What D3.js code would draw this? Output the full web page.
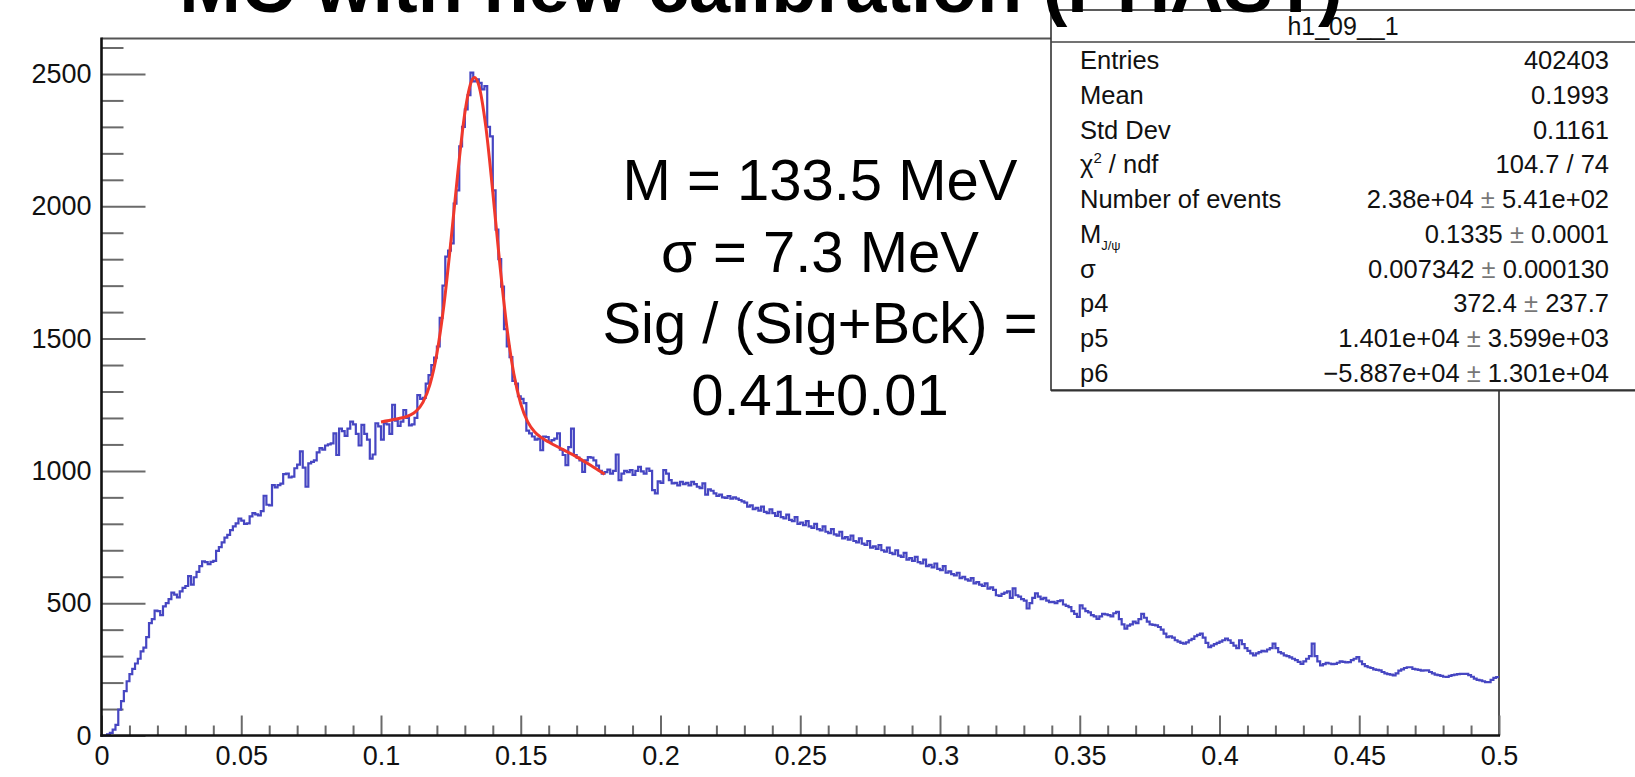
<!DOCTYPE html>
<html><head><meta charset="utf-8">
<script src="https://cdn.jsdelivr.net/npm/d3@7"></script>
<style>
body{margin:0;background:#fff;}
svg{display:block;font-family:"Liberation Sans",Arial,Helvetica,sans-serif;}
</style>
</head><body>
<svg id="c" width="1635" height="777"></svg>
<script>
// ---------------- data ----------------
const binWidth = 0.001;
const binCounts = [
0,0,4,10,22,40,98,130,168,205,
232,252,272,290,318,332,372,425,440,472,
470,455,488,500,515,540,532,522,545,558,
565,602,570,598,618,640,658,655,648,656,
660,698,712,730,748,758,776,790,802,820,
812,800,802,828,840,836,832,848,906,872,
870,946,938,946,952,988,990,975,978,1010,
1024,1074,1012,940,1028,1034,1040,1070,1086,1080,
1096,1100,1104,1142,1060,1160,1150,1132,1160,1186,
1176,1140,1096,1174,1140,1118,1046,1062,1180,1168,
1118,1180,1176,1140,1250,1190,1170,1186,1230,1200,
1172,1176,1200,1286,1272,1276,1330,1362,1400,1428,
1470,1578,1700,1810,1832,1860,2010,2060,2226,2300,
2366,2420,2505,2472,2480,2466,2442,2454,2300,2264,
2060,1912,1800,1696,1536,1470,1430,1340,1330,1282,
1272,1256,1152,1142,1130,1118,1122,1078,1130,1128,
1110,1116,1122,1142,1080,1060,1022,1090,1160,1060,
1050,1040,996,1040,1052,1050,1040,1020,1000,990,
995,1005,990,1000,1062,965,990,1000,995,1003,
985,1000,1015,998,990,1009,1000,927,915,960,
955,1003,990,965,953,955,945,959,950,955,
945,959,950,940,935,953,910,930,925,915,
905,910,900,898,905,895,900,895,890,885,
880,865,870,855,860,850,865,845,840,855,
840,830,845,825,820,835,815,810,825,800,
805,795,810,790,785,800,780,775,790,770,
765,780,760,755,770,745,750,740,755,735,
730,745,725,720,735,710,715,705,720,700,
695,710,690,685,700,680,675,690,665,670,
660,675,655,650,665,640,645,635,650,630,
625,640,615,620,610,605,615,595,600,590,
585,595,575,580,570,565,575,555,560,550,
530,528,535,540,545,520,556,530,525,515,
510,480,500,520,537,525,515,520,510,504,
505,500,508,511,495,490,485,470,460,448,
492,480,470,465,455,450,441,450,460,458,
455,450,462,467,440,420,404,415,420,430,
425,440,460,445,430,420,418,416,410,400,
385,372,375,370,360,355,350,347,352,360,
365,375,380,385,370,350,334,340,345,350,
355,360,366,360,350,340,330,360,345,330,
320,310,303,310,315,320,318,325,330,347,
330,315,310,303,300,295,290,285,278,271,
280,290,300,347,300,280,265,270,275,272,
270,271,275,280,278,276,277,285,290,296,
280,270,262,258,255,250,248,246,240,235,
232,230,227,235,245,250,255,258,258,252,
250,248,245,246,246,240,235,230,228,225,
222,221,225,228,230,232,233,233,233,228,
222,215,210,208,205,202,202,210,218,221
];
const fitX = [0.100,0.105,0.110,0.1125,0.115,0.1175,0.120,0.1225,0.125,0.1275,0.130,0.1325,0.1335,0.135,0.1375,0.140,0.1425,0.145,0.1475,0.150,0.1525,0.155,0.1575,0.160,0.165,0.170,0.175,0.180];
const fitY = [1185,1195,1209,1225,1259,1326,1444,1626,1866,2128,2353,2476,2487,2457,2301,2054,1783,1545,1368,1253,1185,1147,1125,1109,1081,1053,1021,987];

const xMajorTicks = [0,0.05,0.1,0.15,0.2,0.25,0.3,0.35,0.4,0.45,0.5];
const xTickLabels = ["0","0.05","0.1","0.15","0.2","0.25","0.3","0.35","0.4","0.45","0.5"];
const yMajorTicks = [0,500,1000,1500,2000,2500];
const yTickLabels = ["0","500","1000","1500","2000","2500"];

const titleText = "MC with new calibration (PHAST)";
const statsTitle = "h1_09__1";
const statsLabels = ["Entries","Mean","Std Dev","chi2","Number of events","MJpsi","σ","p4","p5","p6"];
const statsValues = ["402403","0.1993","0.1161","104.7 / 74",
  ["2.38e+04","5.41e+02"],["0.1335","0.0001"],["0.007342","0.000130"],
  ["372.4","237.7"],["1.401e+04","3.599e+03"],["\u22125.887e+04","1.301e+04"]];
const annotationLines = ["M = 133.5 MeV","σ = 7.3 MeV","Sig / (Sig+Bck) =","0.41±0.01"];

// ---------------- layout ----------------
const svg = d3.select("#c");
const X0 = 101.5, X1 = 1499, Y0 = 735.5, Y1 = 38.5;
const x = d3.scaleLinear().domain([0,0.5]).range([X0,X1]);
const y = d3.scaleLinear().domain([0,2634]).range([Y0,Y1]);

svg.append("rect").attr("width",1635).attr("height",777).attr("fill","#fff");

// frame (top + right)
svg.append("path").attr("d",`M${X0},${Y1}H${X1}V${Y0}`).attr("fill","none")
  .attr("stroke","#555").attr("stroke-width",2);

// minor ticks
const xMinor = d3.range(0,51).map(i=>i*0.01).filter(v=>!xMajorTicks.some(m=>Math.abs(m-v)<1e-9));
const yMinor = d3.range(0,27).map(i=>i*100).filter(v=>v%500!==0);

const gx = svg.append("g").attr("transform",`translate(0,${Y0})`);
gx.call(d3.axisBottom(x).tickValues(xMinor).tickSizeInner(-10).tickSizeOuter(0).tickFormat(""));
gx.call(g=>g.select(".domain").remove());
const gx2 = svg.append("g").attr("transform",`translate(0,${Y0})`);
gx2.call(d3.axisBottom(x).tickValues(xMajorTicks).tickSizeInner(-20).tickSizeOuter(0).tickPadding(10)
  .tickFormat((d,i)=>xTickLabels[i]));
gx2.call(g=>g.select(".domain").remove());

const gy = svg.append("g").attr("transform",`translate(${X0},0)`);
gy.call(d3.axisLeft(y).tickValues(yMinor).tickSizeInner(-22).tickSizeOuter(0).tickFormat(""));
gy.call(g=>g.select(".domain").remove());
const gy2 = svg.append("g").attr("transform",`translate(${X0},0)`);
gy2.call(d3.axisLeft(y).tickValues(yMajorTicks).tickSizeInner(-44).tickSizeOuter(0).tickPadding(10)
  .tickFormat((d,i)=>yTickLabels[i]));
gy2.call(g=>g.select(".domain").remove());

svg.selectAll(".tick line").attr("stroke","#6a6a6a").attr("stroke-width",2);
svg.selectAll(".tick text").attr("font-size",27).attr("fill","#111")
  .attr("font-family","'Liberation Sans',Arial,sans-serif");

// histogram
const pts = binCounts.map((v,i)=>[i*binWidth,v]);
pts.push([binCounts.length*binWidth, binCounts[binCounts.length-1]]);
const stepLine = d3.line().x(d=>x(d[0])).y(d=>y(d[1])).curve(d3.curveStepAfter);
svg.append("path").attr("d",stepLine(pts)).attr("fill","none")
  .attr("stroke","#4646c2").attr("stroke-width",2.2).attr("stroke-linejoin","miter");

// fit
const fitLine = d3.line().x((d,i)=>x(fitX[i])).y((d,i)=>y(fitY[i])).curve(d3.curveMonotoneX);
svg.append("path").attr("d",fitLine(fitX)).attr("fill","none")
  .attr("stroke","#f0382c").attr("stroke-width",3);

// axis lines
svg.append("line").attr("x1",X0).attr("x2",X0).attr("y1",Y1-1).attr("y2",Y0+1.2)
  .attr("stroke","#111").attr("stroke-width",2.6);
svg.append("line").attr("x1",X0-1.2).attr("x2",X1+1).attr("y1",Y0).attr("y2",Y0)
  .attr("stroke","#111").attr("stroke-width",2.6);

// annotation
const ann = svg.append("g").attr("font-size",58).attr("fill","#000").attr("text-anchor","middle");
annotationLines.forEach((t,i)=>{
  ann.append("text").attr("x",820).attr("y",200+i*71.7).text(t);
});

// stats box
const bx = 1051, byTop = 10, byBot = 390;
svg.append("rect").attr("x",bx).attr("y",byTop).attr("width",1640-bx).attr("height",byBot-byTop)
  .attr("fill","#fff").attr("stroke","#333").attr("stroke-width",1.6);
svg.append("line").attr("x1",bx).attr("x2",1640).attr("y1",byBot+0.8).attr("y2",byBot+0.8)
  .attr("stroke","#333").attr("stroke-width",1.6);
svg.append("line").attr("x1",bx).attr("x2",1640).attr("y1",42).attr("y2",42)
  .attr("stroke","#444").attr("stroke-width",1.6);
svg.append("text").attr("x",1343).attr("y",35).attr("text-anchor","middle")
  .attr("font-size",25).attr("fill","#111").text(statsTitle);

const sg = svg.append("g").attr("font-size",25.5).attr("fill","#111");
statsLabels.forEach((lab,i)=>{
  const yy = 69.3 + i*34.7;
  const t = sg.append("text").attr("x",1080).attr("y",yy);
  if(lab==="chi2"){
    t.append("tspan").text("χ");
    t.append("tspan").attr("font-size",15).attr("dy",-10).text("2");
    t.append("tspan").attr("dy",10).text(" / ndf");
  } else if(lab==="MJpsi"){
    t.append("tspan").text("M");
    t.append("tspan").attr("font-size",13).attr("dy",7).text("J/ψ");
  } else t.text(lab);
  const v = statsValues[i];
  const tv = sg.append("text").attr("x",1609).attr("y",yy).attr("text-anchor","end");
  if(Array.isArray(v)){
    tv.append("tspan").text(v[0]+" ");
    tv.append("tspan").attr("fill","#777").text("±");
    tv.append("tspan").text(" "+v[1]);
  } else tv.text(v);
});

// title (drawn last, cut at top)
svg.append("text").attr("x",761).attr("y",12).attr("text-anchor","middle")
  .attr("font-size",74).attr("font-weight","bold").attr("fill","#000").text(titleText);
</script>
</body></html>
